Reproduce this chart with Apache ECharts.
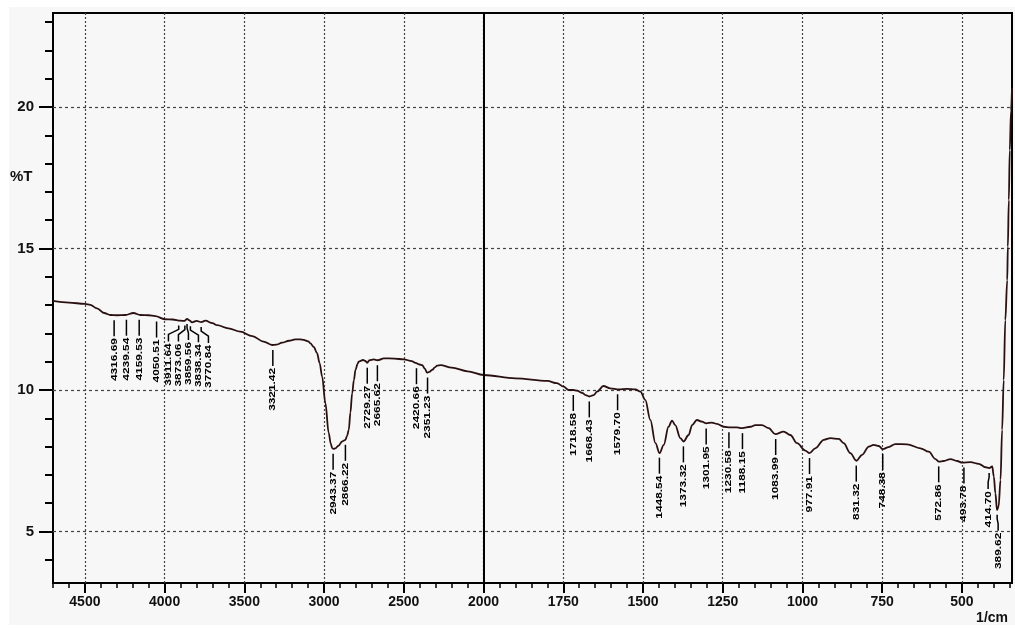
<!DOCTYPE html>
<html>
<head>
<meta charset="utf-8">
<script src="https://cdn.jsdelivr.net/npm/echarts@6/dist/echarts.min.js"></script>
<style>
  html, body { margin: 0; padding: 0; background: #ffffff; }
  #chart { width: 1015px; height: 628px; }
</style>
</head>
<body>
<div id="chart"></div>
<script>
// IR spectrum samples: wavenumber (1/cm) and transmittance (%T)
const wavenumbers = [
  4700, 4600, 4500, 4466, 4424, 4380, 4340, 4300, 4246, 4196, 4152, 4100, 4058, 4000,
  3950, 3901, 3876, 3859, 3845, 3828, 3800, 3770, 3744, 3700, 3671, 3600, 3525, 3450,
  3379, 3326, 3300, 3263, 3220, 3180, 3150, 3128, 3100, 3086, 3065, 3044, 3028, 3012,
  2992, 2971, 2958, 2949, 2941, 2929, 2910, 2887, 2866, 2856, 2845, 2835, 2824, 2813,
  2803, 2790, 2783, 2755, 2742, 2730, 2715, 2689, 2665, 2657, 2626, 2560, 2500, 2450,
  2427, 2400, 2385, 2368, 2354, 2340, 2322, 2305, 2291, 2270, 2200, 2100, 2000,
  1900, 1800, 1770, 1749, 1733, 1718, 1707, 1691, 1680, 1668, 1655, 1644, 1624, 1603,
  1576, 1550, 1524, 1508, 1493, 1477, 1461, 1448, 1435, 1420, 1409, 1399, 1383, 1373,
  1357, 1346, 1331, 1315, 1302, 1284, 1268, 1247, 1226, 1205, 1189, 1163, 1148, 1127,
  1106, 1085, 1059, 1038, 1017, 991, 978, 960, 933, 912, 886, 871, 850, 831, 813, 792,
  777, 761, 748, 730, 709, 672, 630, 604, 583, 572, 557, 536, 515, 499, 473, 447, 426,
  414, 405, 400, 395, 390, 385, 379, 374, 369, 364, 358, 356, 353, 350, 346, 343
];
const transmittance = [
  13.15, 13.09, 13.04, 13.01, 12.88, 12.72, 12.65, 12.64, 12.65, 12.72, 12.65, 12.64, 12.61, 12.50,
  12.49, 12.45, 12.44, 12.51, 12.46, 12.39, 12.44, 12.40, 12.45, 12.36, 12.29, 12.18, 12.06, 11.90,
  11.71, 11.59, 11.60, 11.67, 11.74, 11.79, 11.79, 11.77, 11.72, 11.65, 11.52, 11.30, 10.95, 10.47,
  9.54, 8.48, 8.10, 7.94, 7.92, 7.94, 8.03, 8.18, 8.24, 8.38, 8.59, 9.20, 9.88, 10.35,
  10.71, 10.92, 11.00, 11.06, 11.03, 10.96, 11.05, 11.08, 11.05, 11.06, 11.12, 11.11, 11.08, 11.02,
  10.96, 10.90, 10.88, 10.75, 10.61, 10.64, 10.71, 10.80, 10.86, 10.88, 10.79, 10.66, 10.53,
  10.41, 10.32, 10.24, 10.12, 10.00, 10.00, 9.98, 9.90, 9.82, 9.77, 9.82, 9.94, 10.14, 10.06,
  10.02, 10.04, 10.02, 9.94, 9.65, 8.94, 8.12, 7.77, 8.06, 8.70, 8.92, 8.76, 8.30, 8.18,
  8.41, 8.76, 8.94, 8.88, 8.82, 8.85, 8.80, 8.70, 8.68, 8.68, 8.65, 8.70, 8.76, 8.76,
  8.65, 8.44, 8.53, 8.41, 8.12, 7.86, 7.77, 7.94, 8.24, 8.30, 8.27, 8.12, 7.77, 7.50, 7.71, 8.00,
  8.06, 8.02, 7.91, 7.98, 8.09, 8.08, 7.94, 7.82, 7.56, 7.47, 7.49, 7.56, 7.49, 7.43, 7.45, 7.39, 7.27,
  7.24, 7.30, 6.94, 6.35, 5.76, 5.88, 6.82, 8.59, 10.35, 12.47, 13.88, 15.06, 16.71, 18.47, 19.88, 20.66
];
// Band positions marked on the spectrum (1/cm)
const peakLabels = [
  4316.69, 4239.54, 4159.53, 4050.51, 3911.64, 3873.06, 3859.56, 3838.34, 3770.84,
  3321.42, 2943.37, 2866.22, 2729.27, 2665.62, 2420.66, 2351.23,
  1718.58, 1668.43, 1579.70, 1448.54, 1373.32, 1301.95, 1230.58, 1188.15,
  1083.99, 977.91, 831.32, 748.38, 572.86, 493.78, 414.70, 389.62
];
// Axis ticks
const xMajorTicks = [4500, 4000, 3500, 3000, 2500, 2000, 1750, 1500, 1250, 1000, 750, 500];
const xMinorTicks = [
  4700, 4600, 4500, 4400, 4300, 4200, 4100, 4000, 3900, 3800, 3700, 3600, 3500, 3400,
  3300, 3200, 3100, 3000, 2900, 2800, 2700, 2600, 2500, 2400, 2300, 2200, 2100, 2000,
  1950, 1900, 1850, 1800, 1750, 1700, 1650, 1600, 1550, 1500, 1450, 1400, 1350, 1300,
  1250, 1200, 1150, 1100, 1050, 1000, 950, 900, 850, 800, 750, 700, 650, 600, 550, 500,
  450, 400, 350
];
const yMajorTicks = [5, 10, 15, 20];
const yMinorTicks = [4, 6, 7, 8, 9, 11, 12, 13, 14, 16, 17, 18, 19, 21, 22, 23];

const X_LOW = 343, X_HIGH = 4700;
const Y_LOW = 3.18, Y_HIGH = 23.32;
const SPLIT = 2000;

// Split wavenumber scale: above 2000 1/cm the axis is compressed by half
function toAxis(wn) { return wn <= SPLIT ? wn : SPLIT + (wn - SPLIT) / 2; }
function fromAxis(u) { return u <= SPLIT ? u : SPLIT + (u - SPLIT) * 2; }

// Transmittance at any wavenumber
function transAt(wn) {
  for (let i = 0; i < wavenumbers.length - 1; i++) {
    const a = wavenumbers[i], b = wavenumbers[i + 1];
    if (wn <= a && wn >= b) {
      const t = (a - wn) / (a - b);
      return transmittance[i] + t * (transmittance[i + 1] - transmittance[i]);
    }
  }
  return transmittance[transmittance.length - 1];
}

// Spread crowded labels so neighbours stay at least `gap` px apart
function spread(xs, gap) {
  let groups = xs.map((x, i) => ({ idx: [i], c: x }));
  let merged = true;
  while (merged) {
    merged = false;
    for (let k = 0; k < groups.length - 1; k++) {
      const a = groups[k], b = groups[k + 1];
      const aEnd = a.c + (a.idx.length - 1) / 2 * gap;
      const bStart = b.c - (b.idx.length - 1) / 2 * gap;
      if (bStart - aEnd < gap) {
        const idx = a.idx.concat(b.idx);
        const c = idx.reduce((s, i) => s + xs[i], 0) / idx.length;
        groups.splice(k, 2, { idx: idx, c: c });
        merged = true;
        break;
      }
    }
  }
  const out = [];
  groups.forEach(g => g.idx.forEach((i, j) => { out[i] = g.c + (j - (g.idx.length - 1) / 2) * gap; }));
  return out;
}

const spectrum = wavenumbers.map((w, i) => [toAxis(w), transmittance[i]]);
const peaks = peakLabels.map(w => [toAxis(w), transAt(w)]);

const FONT = '"Liberation Sans", Arial, sans-serif';
const GRID = { left: 53, top: 13, width: 959, height: 570 };

function renderPeak(params, api) {
  const ctx = params.context;
  if (!ctx.labelX) {
    const xs = peaks.map(p => api.coord(p)[0]);
    ctx.labelX = spread(xs, 10);
  }
  const i = params.dataIndex;
  const p = api.coord([api.value(0), api.value(1)]);
  const lx = ctx.labelX[i];
  const y0 = p[1] + 5;
  const pts = Math.abs(lx - p[0]) < 0.5
    ? [[p[0], y0], [p[0], y0 + 16]]
    : [[p[0], y0], [p[0], y0 + 4], [lx, y0 + 9], [lx, y0 + 16]];
  return {
    type: 'group',
    children: [
      { type: 'polyline', shape: { points: pts }, style: { stroke: '#000', lineWidth: 1.5, fill: null } },
      {
        type: 'text', x: lx, y: y0 + 18, rotation: Math.PI / 2, scaleX: 1.08, scaleY: 0.82,
        style: { text: peakLabels[i].toFixed(2), fill: '#000', font: 'bold 11px ' + FONT, align: 'right', verticalAlign: 'middle' }
      }
    ]
  };
}

const chart = echarts.init(document.getElementById('chart'), null, { renderer: 'canvas' });
chart.setOption({
  animation: false,
  backgroundColor: '#ffffff',
  graphic: [
    { type: 'rect', left: 9, top: 7, z: -10, shape: { width: 1006, height: 618 }, style: { fill: '#f7f7f7' }, silent: true },
    { type: 'text', left: 10, top: 169, style: { text: '%T', font: 'bold 15px ' + FONT, fill: '#111' } },
    { type: 'text', right: 7, top: 611, style: { text: '1/cm', font: 'bold 14px ' + FONT, fill: '#111' } }
  ],
  grid: Object.assign({ show: true, borderColor: '#000', borderWidth: 2, backgroundColor: 'transparent' }, GRID),
  xAxis: [
    {
      type: 'value', position: 'bottom', inverse: true, min: X_LOW, max: toAxis(X_HIGH),
      axisLine: { show: false },
      axisTick: { show: true, customValues: xMajorTicks.map(toAxis), length: 10, lineStyle: { color: '#000', width: 2 } },
      axisLabel: {
        customValues: xMajorTicks.map(toAxis), formatter: v => String(Math.round(fromAxis(v))),
        margin: 12, fontSize: 14, fontWeight: 'bold', color: '#111', fontFamily: FONT
      },
      splitLine: { show: true, lineStyle: { type: [2, 2], color: '#444', width: 1.2 } }
    },
    {
      type: 'value', position: 'top', offset: -GRID.height, inverse: true, min: X_LOW, max: toAxis(X_HIGH),
      axisLine: { show: false },
      axisTick: { show: true, inside: true, customValues: xMinorTicks.map(toAxis), length: 5, lineStyle: { color: '#000', width: 1.5 } },
      axisLabel: { show: false },
      splitLine: { show: false }
    }
  ],
  yAxis: [
    {
      type: 'value', position: 'left', min: Y_LOW, max: Y_HIGH,
      axisLine: { show: false },
      axisTick: { show: true, customValues: yMajorTicks, length: 14, lineStyle: { color: '#000', width: 2 } },
      axisLabel: { customValues: yMajorTicks, margin: 19, fontSize: 15, fontWeight: 'bold', color: '#111', fontFamily: FONT },
      splitLine: { show: true, lineStyle: { type: [3, 3], color: '#444', width: 1.2 } }
    },
    {
      type: 'value', position: 'right', offset: -GRID.width, min: Y_LOW, max: Y_HIGH,
      axisLine: { show: false },
      axisTick: { show: true, inside: true, customValues: yMinorTicks, length: 8, lineStyle: { color: '#000', width: 2 } },
      axisLabel: { show: false },
      splitLine: { show: false }
    }
  ],
  series: [
    {
      type: 'line', xAxisIndex: 0, yAxisIndex: 0, data: spectrum,
      showSymbol: false, smooth: 0.35, smoothMonotone: 'x', clip: true,
      lineStyle: { color: '#2a1010', width: 1.8 },
      markLine: {
        silent: true, symbol: ['none', 'none'], label: { show: false },
        lineStyle: { color: '#000', type: 'solid', width: 2 },
        data: [{ xAxis: toAxis(SPLIT) }]
      }
    },
    {
      type: 'custom', xAxisIndex: 0, yAxisIndex: 0, data: peaks, silent: true,
      encode: { x: 0, y: 1 }, renderItem: renderPeak
    }
  ]
});
</script>
</body>
</html>
